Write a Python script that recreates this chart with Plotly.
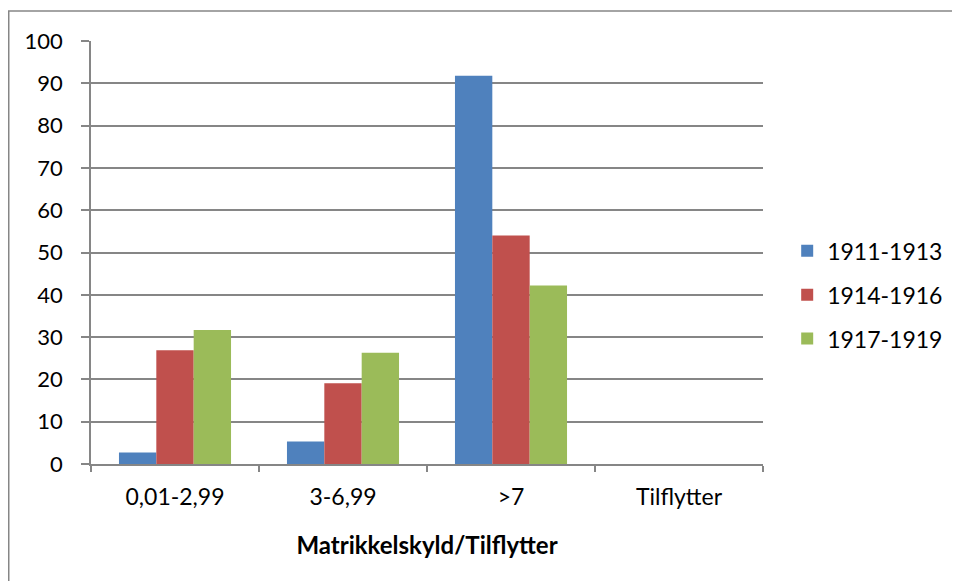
import plotly.graph_objects as go

categories = ["0,01-2,99", "3-6,99", ">7", "Tilflytter"]
series_names = ["1911-1913", "1914-1916", "1917-1919"]
s1911 = [2.7, 5.3, 91.8, 0]
s1914 = [26.9, 19.1, 54.0, 0]
s1917 = [31.7, 26.3, 42.2, 0]
colors = ["#4F81BD", "#C0504D", "#9BBB59"]
y_ticks = [0, 10, 20, 30, 40, 50, 60, 70, 80, 90, 100]

font_family = "Lato, Noto Sans, sans-serif"
grey = "#868686"

fig = go.Figure()
for i, (name, vals) in enumerate(zip(series_names, [s1911, s1914, s1917])):
    fig.add_trace(go.Bar(
        x=categories, y=vals, name=name,
        marker=dict(color=colors[i], line=dict(width=0)),
        legendgroup=name,
    ))

fig.update_layout(
    width=952, height=573,
    margin=dict(l=83, r=195, t=33, b=117),
    paper_bgcolor="white", plot_bgcolor="white",
    barmode="group", bargap=0.333, bargroupgap=0,
    font=dict(family=font_family, size=23, color="#000000"),
    showlegend=True,
    legend=dict(x=1.036, y=0.40, xanchor="left", yanchor="middle",
                font=dict(size=23), tracegroupgap=11,
                bgcolor="rgba(0,0,0,0)"),
    xaxis=dict(
        showline=True, linecolor=grey, linewidth=1.5,
        ticks="outside", ticklen=6, tickcolor=grey, tickwidth=1.5,
        tickson="boundaries", ticklabelstandoff=12,
        tickfont=dict(size=23), showgrid=False,
        title=dict(text="<b>Matrikkelskyld/Tilflytter</b>", font=dict(size=24), standoff=28),
    ),
    yaxis=dict(
        range=[0, 100], tickvals=y_ticks,
        showline=True, linecolor=grey, linewidth=1.5,
        ticks="outside", ticklen=8, tickcolor=grey, tickwidth=1.5,
        ticklabelstandoff=14,
        showgrid=True, gridcolor=grey, gridwidth=1.5,
        tickfont=dict(size=22), zeroline=False,
    ),
    shapes=[dict(type="rect", xref="paper", yref="paper",
                 x0=-0.1224, x1=1.5, y0=-0.6, y1=1.071,
                 line=dict(color=grey, width=1.5), layer="below")],
)

fig.write_html("out.html")
